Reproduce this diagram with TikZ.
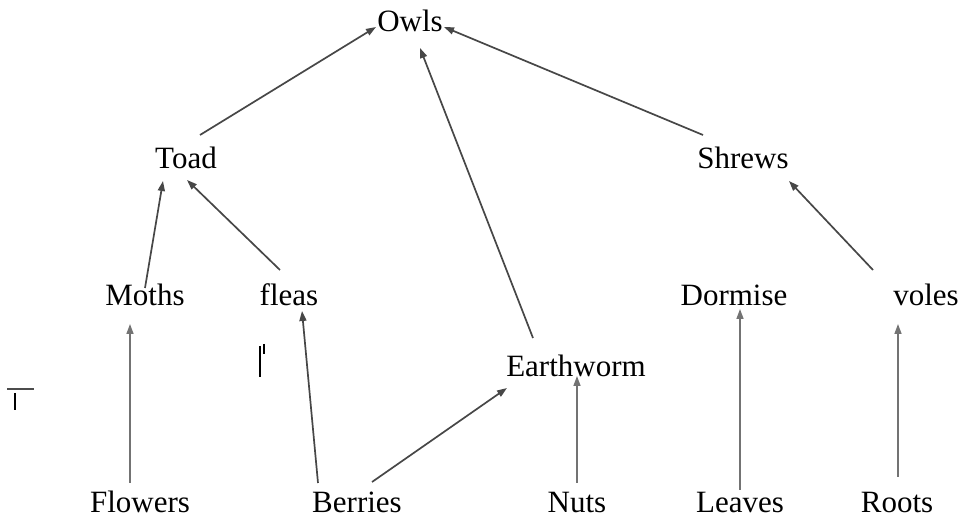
\documentclass[tikz,border=0pt]{standalone}
\usepackage{fontspec}
\setmainfont{Liberation Serif}
\usetikzlibrary{arrows.meta}
\begin{document}
\begin{tikzpicture}[x=1pt,y=-1pt,
  lbl/.style={anchor=base,inner sep=0pt,font=\fontsize{31}{37}\selectfont},
  arr/.style={draw=black!72,line width=1.7pt,-{Triangle[length=10pt,width=7pt]}},
  varr/.style={arr,draw=black!55,line width=1.5pt},
  straymark/.style={draw=black,line width=2pt}]
\useasboundingbox (0,0) rectangle (962,518);
% labels
\node[lbl] (owls) at (410,32) {Owls};
\node[lbl] (toad) at (186,169) {Toad};
\node[lbl] (shrews) at (743,169) {Shrews};
\node[lbl] (moths) at (145,306) {Moths};
\node[lbl] (fleas) at (289,306) {fleas};
\node[lbl] (dormise) at (734,306) {Dormise};
\node[lbl] (voles) at (926,306) {voles};
\node[lbl] (earthworm) at (576,377) {Earthworm};
\node[lbl] (flowers) at (140,513) {Flowers};
\node[lbl] (berries) at (357,513) {Berries};
\node[lbl] (nuts) at (577,513) {Nuts};
\node[lbl] (leaves) at (740,513) {Leaves};
\node[lbl] (roots) at (897,513) {Roots};
% arrow end points
\coordinate (toadS) at (200,135);  \coordinate (owlsL) at (376,27);
\coordinate (ewS) at (533,338);    \coordinate (owlsB) at (420,48);
\coordinate (shrS) at (703,135);   \coordinate (owlsR) at (444,27);
\coordinate (mothS) at (145,288);  \coordinate (toadL) at (163,181);
\coordinate (fleaS) at (280,270);  \coordinate (toadR) at (187,180);
\coordinate (volS) at (873,270);   \coordinate (shrB) at (789,181);
\coordinate (flwS) at (130,483);   \coordinate (mothB) at (130,324);
\coordinate (berS1) at (318,483);  \coordinate (fleaB) at (302,311);
\coordinate (berS2) at (372,482);  \coordinate (ewL) at (507,388);
\coordinate (nutS) at (577,483);   \coordinate (ewB) at (577,376);
\coordinate (leaS) at (740,490);   \coordinate (dorB) at (740,309);
\coordinate (rooS) at (898,477);   \coordinate (volB) at (898,324);
% connectors
\draw[arr] (toadS) -- (owlsL);
\draw[arr] (ewS) -- (owlsB);
\draw[arr] (shrS) -- (owlsR);
\draw[arr] (mothS) -- (toadL);
\draw[arr] (fleaS) -- (toadR);
\draw[arr] (volS) -- (shrB);
\draw[varr] (flwS) -- (mothB);
\draw[arr] (berS1) -- (fleaB);
\draw[arr] (berS2) -- (ewL);
\draw[varr] (nutS) -- (ewB);
\draw[varr] (leaS) -- (dorB);
\draw[varr] (rooS) -- (volB);
% stray marks
\draw[straymark,draw=black!70] (7,389) -- (34,389);
\draw[straymark] (15,393) -- (15,410);
\draw[straymark] (260,346) -- (260,377);
\draw[straymark] (264,344) -- (264,354);
\end{tikzpicture}
\end{document}
